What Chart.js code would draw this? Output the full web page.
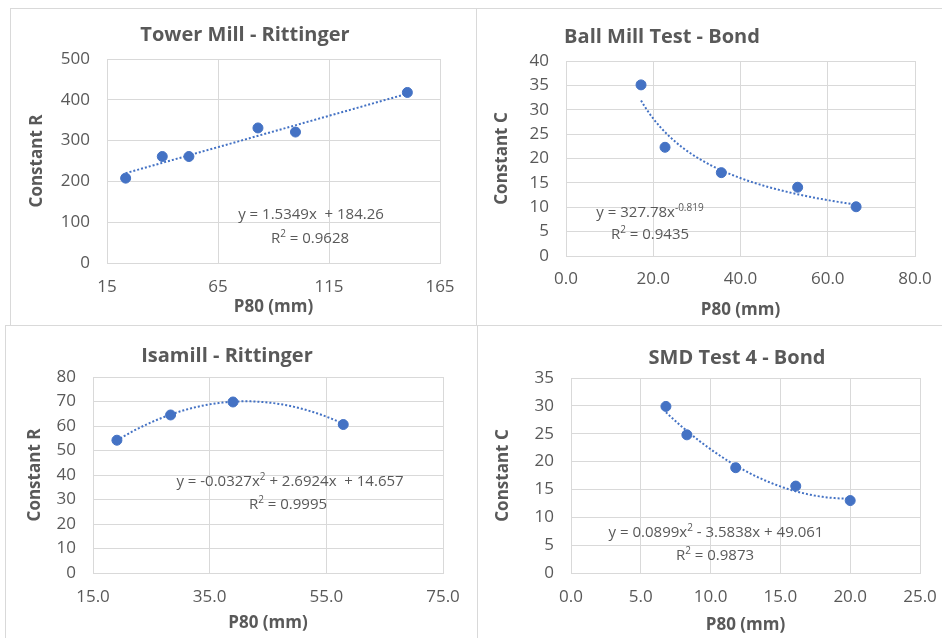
<!DOCTYPE html>
<html>
<head>
<meta charset="utf-8">
<script src="https://cdn.jsdelivr.net/npm/chart.js@4.4.1/dist/chart.umd.min.js"></script>
<style>
  body { margin: 0; background: #fff; font-family: "Open Sans", sans-serif; }
  #page { position: relative; width: 942px; height: 638px; overflow: hidden; }
  .panel { position: absolute; border: 1px solid #d9d9d9; box-sizing: border-box; }
  canvas { position: absolute; }
  .title { position: absolute; transform: translate(-50%, -50%); font-weight: bold; font-size: 20px; color: #595959; white-space: nowrap; }
  .eq { position: absolute; transform: translate(-50%, -50%); font-size: 15px; color: #595959; white-space: nowrap; line-height: 1; }
  .eq sup { font-size: 10px; }
</style>
</head>
<body>
<div id="page">
  <div class="panel" style="left:10px;top:8px;width:467px;height:318px"></div>
  <div class="panel" style="left:476px;top:8px;width:480px;height:318px"></div>
  <div class="panel" style="left:5px;top:325px;width:473px;height:330px"></div>
  <div class="panel" style="left:477px;top:325px;width:480px;height:330px"></div>

  <canvas id="c1" width="466" height="317" style="left:10px;top:8px"></canvas>
  <canvas id="c2" width="466" height="317" style="left:476px;top:8px"></canvas>
  <canvas id="c3" width="472" height="313" style="left:5px;top:325px"></canvas>
  <canvas id="c4" width="465" height="313" style="left:477px;top:325px"></canvas>

  <div class="title" style="left:245px;top:33px">Tower Mill - Rittinger</div>
  <div class="title" style="left:662px;top:35px">Ball Mill Test - Bond</div>
  <div class="title" style="left:227px;top:354px">Isamill - Rittinger</div>
  <div class="title" style="left:737px;top:356px">SMD Test 4 - Bond</div>

  <div class="eq" style="left:311px;top:213px">y = 1.5349x&nbsp; + 184.26</div>
  <div class="eq" style="left:310px;top:236px">R<sup>2</sup> = 0.9628</div>
  <div class="eq" style="left:650px;top:210px">y = 327.78x<sup>-0.819</sup></div>
  <div class="eq" style="left:650px;top:232px">R<sup>2</sup> = 0.9435</div>
  <div class="eq" style="left:290px;top:479px">y = -0.0327x<sup>2</sup> + 2.6924x&nbsp; + 14.657</div>
  <div class="eq" style="left:288px;top:502px">R<sup>2</sup> = 0.9995</div>
  <div class="eq" style="left:716px;top:530px">y = 0.0899x<sup>2</sup> - 3.5838x + 49.061</div>
  <div class="eq" style="left:715px;top:553px">R<sup>2</sup> = 0.9873</div>
</div>

<script>
// ---- data ----
const towerP80 = [23.4, 39.9, 51.9, 83.0, 99.9, 150.3];
const towerR = [208, 261, 261, 331, 321, 418];
const towerXTicks = [15, 65, 115, 165];
const towerYTicks = [0, 100, 200, 300, 400, 500];
const towerTrend = [184.26, 1.5349];          // polynomial, low order first

const ballP80 = [17.2, 22.7, 35.6, 53.1, 66.5];
const ballC = [35.1, 22.3, 17.1, 14.1, 10.1];
const ballXTicks = [0, 20, 40, 60, 80];
const ballYTicks = [0, 5, 10, 15, 20, 25, 30, 35, 40];
const ballTrend = [327.78, -0.819];           // power: a * x^b

const isaP80 = [19.1, 28.3, 39.0, 57.9];
const isaR = [54.2, 64.5, 69.8, 60.6];
const isaXTicks = [15, 35, 55, 75];
const isaYTicks = [0, 10, 20, 30, 40, 50, 60, 70, 80];
const isaTrend = [14.657, 2.6924, -0.0327];

const smdP80 = [6.8, 8.3, 11.8, 16.1, 20.0];
const smdC = [29.9, 24.8, 18.9, 15.6, 13.0];
const smdXTicks = [0, 5, 10, 15, 20, 25];
const smdYTicks = [0, 5, 10, 15, 20, 25, 30, 35];
const smdTrend = [49.061, -3.5838, 0.0899];

Chart.defaults.font.family = "'Open Sans', sans-serif";
Chart.defaults.color = "#595959";

const BLUE = "#4472C4";
const GRID = "#d9d9d9";

const poly = c => x => c.reduce((s, k, i) => s + k * Math.pow(x, i), 0);
const power = c => x => c[0] * Math.pow(x, c[1]);

// draws the dotted trend line through the scales, under the markers
function trendLine(fn) {
  return {
    id: "trend",
    beforeDatasetsDraw(chart) {
      const { ctx, scales: { x, y } } = chart;
      const xs = chart.data.datasets[0].data.map(p => p.x);
      const a = Math.min(...xs), b = Math.max(...xs);
      ctx.save();
      ctx.beginPath();
      for (let i = 0; i <= 120; i++) {
        const xv = a + (b - a) * i / 120;
        const px = x.getPixelForValue(xv), py = y.getPixelForValue(fn(xv));
        if (i === 0) ctx.moveTo(px, py); else ctx.lineTo(px, py);
      }
      ctx.setLineDash([2, 2]);
      ctx.lineWidth = 2;
      ctx.strokeStyle = BLUE;
      ctx.stroke();
      ctx.restore();
    }
  };
}

function makeChart(id, xs, ys, xTicks, yTicks, fn, o) {
  const cv = document.getElementById(id);
  const W = cv.width, H = cv.height;
  return new Chart(cv, {
    type: "scatter",
    data: {
      datasets: [{
        data: xs.map((v, i) => ({ x: v, y: ys[i] })),
        backgroundColor: BLUE,
        borderColor: BLUE,
        pointRadius: 5,
        pointHoverRadius: 5
      }]
    },
    options: {
      responsive: false,
      animation: false,
      layout: { padding: { left: 0, top: o.t, right: W - o.r, bottom: 0 } },
      plugins: { legend: { display: false }, tooltip: { enabled: false } },
      scales: {
        x: {
          type: "linear",
          min: xTicks[0],
          max: xTicks[xTicks.length - 1],
          afterBuildTicks: s => { s.ticks = xTicks.map(v => ({ value: v })); },
          afterFit: s => { s.height = H - o.b; s.paddingLeft = 0; s.paddingRight = 0; },
          grid: { color: GRID, drawTicks: false },
          border: { color: GRID },
          ticks: {
            padding: o.xtp,
            font: { size: 17 },
            callback: v => o.dec ? v.toFixed(1) : String(v)
          },
          title: {
            display: true,
            text: "P80 (mm)",
            font: { size: 17, weight: "bold" },
            padding: { top: 0, bottom: o.xtb }
          }
        },
        y: {
          type: "linear",
          min: yTicks[0],
          max: yTicks[yTicks.length - 1],
          afterBuildTicks: s => { s.ticks = yTicks.map(v => ({ value: v })); },
          afterFit: s => { s.width = o.l; s.paddingTop = 0; s.paddingBottom = 0; },
          grid: { color: GRID, drawTicks: false },
          border: { color: GRID },
          ticks: { padding: 17, font: { size: 17 } },
          title: {
            display: true,
            text: o.ytitle,
            font: { size: 17, weight: "bold" },
            padding: { top: o.ytt, bottom: 0 }
          }
        }
      }
    },
    plugins: [trendLine(fn)]
  });
}

makeChart("c1", towerP80, towerR, towerXTicks, towerYTicks, poly(towerTrend),
  { l: 97, t: 51, r: 430, b: 255, xtp: 13.5, xtb: 7.8, ytt: 16.8, dec: false, ytitle: "Constant R" });
makeChart("c2", ballP80, ballC, ballXTicks, ballYTicks, power(ballTrend),
  { l: 90, t: 53, r: 439, b: 248, xtp: 13, xtb: 4.8, ytt: 15.8, dec: true, ytitle: "Constant C" });
makeChart("c3", isaP80, isaR, isaXTicks, isaYTicks, poly(isaTrend),
  { l: 88, t: 52, r: 438, b: 248, xtp: 13.5, xtb: 4.8, ytt: 19.8, dec: true, ytitle: "Constant R" });
makeChart("c4", smdP80, smdC, smdXTicks, smdYTicks, poly(smdTrend),
  { l: 94, t: 53, r: 443, b: 248, xtp: 13.5, xtb: 2.8, ytt: 15.8, dec: true, ytitle: "Constant C" });
</script>
</body>
</html>
